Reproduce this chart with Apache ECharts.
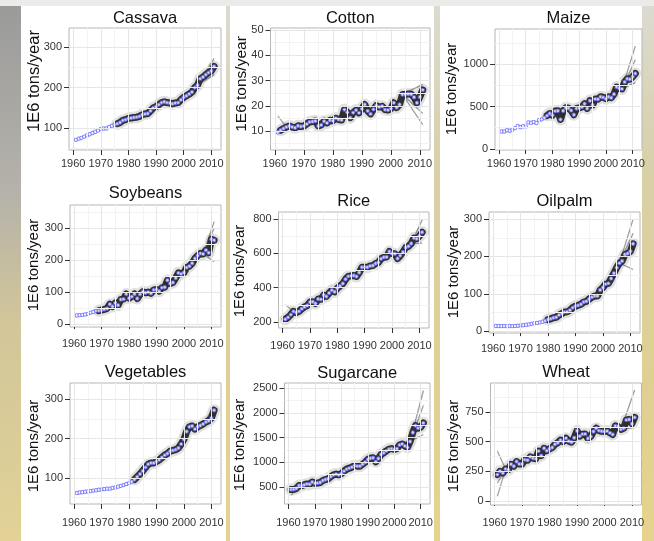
<!DOCTYPE html>
<html><head><meta charset="utf-8">
<script src="https://cdn.jsdelivr.net/npm/echarts@6/dist/echarts.min.js"></script>
<style>html,body{margin:0;padding:0;width:654px;height:541px;overflow:hidden}#c{width:654px;height:541px}</style>
</head><body><div id="c"></div>
<script>
const years = [1961,1962,1963,1964,1965,1966,1967,1968,1969,1970,
  1971,1972,1973,1974,1975,1976,1977,1978,1979,1980,
  1981,1982,1983,1984,1985,1986,1987,1988,1989,1990,
  1991,1992,1993,1994,1995,1996,1997,1998,1999,2000,
  2001,2002,2003,2004,2005,2006,2007,2008,2009,2010,2011];
const crops = ['Cassava','Cotton','Maize','Soybeans','Rice','Oilpalm','Vegetables','Sugarcane','Wheat'];

const cassava = [71,74,76,79,82,85,88,91,94,98, 99,99,103,106,108,111,114,119,121,124,
  125,126,127,129,133,135,136,143,150,153, 158,163,165,163,162,160,162,163,170,176,
  180,184,189,200,206,222,226,232,237,241, 252];
const cotton = [9.5,10.3,11.0,11.6,12.0,11.6,11.3,12.1,11.8,12.0, 12.8,13.6,13.8,14.0,12.0,12.4,13.9,13.2,14.3,14.1,
  15.1,14.6,14.4,18.5,17.4,15.3,17.3,18.3,17.2,18.8, 20.5,18.0,16.8,18.6,20.1,19.5,19.8,18.5,18.3,18.9,
  21.2,19.3,20.5,24.5,24.5,24.7,24.6,23.4,21.2,23.5, 26.3];
const maize = [205,205,220,215,226,246,270,255,268,266, 313,309,317,306,342,349,369,393,418,397,
  446,450,347,450,486,479,454,403,476,483, 494,533,477,569,517,589,585,615,607,592,
  615,603,645,729,714,707,789,827,820,851, 888];
const soybeans = [27,28,29,30,32,36,38,42,42,44, 46,49,62,55,66,59,77,78,94,81,
  86,94,80,93,101,98,100,96,107,108, 103,114,115,137,127,130,144,160,157,161,
  177,181,190,205,214,221,219,231,223,265, 262];
const rice = [216,227,243,262,255,262,277,288,296,316, 318,308,334,332,357,349,369,385,376,397,
  410,424,449,466,469,471,465,488,519,519, 519,527,529,541,547,569,577,579,611,599,
  598,570,587,608,634,641,657,689,685,701, 723];
const oilpalm = [13.6,13.7,13.4,13.7,13.4,13.6,13.3,14.0,14.5,15.0, 16,17,18,19.5,21,22,23.5,25,28,31,
  33,36,37,43,47,51,52,56,63,67, 69,72,78,80,86,91,94,94,110,117,
  126,128,141,155,170,182,188,205,208,214, 234];
const vegetables = [62,63,64,65,66,67,68,69,70,71, 72,73,73,75,76,78,80,82,85,87,
  91,96,103,110,118,127,135,138,138,142, 146,152,158,162,168,170,172,176,186,198,
  218,230,232,224,230,233,237,242,245,252, 272];
const sugarcane = [448,450,470,530,525,545,560,555,600,574, 580,590,630,650,665,710,745,760,745,770,
  820,860,880,900,935,920,920,960,1000,1055, 1080,1090,1010,1075,1155,1190,1230,1265,1275,1260,
  1275,1350,1370,1330,1300,1420,1600,1740,1690,1710, 1795];
const wheat = [222,250,235,270,264,309,293,332,311,311, 348,343,372,360,356,420,382,444,424,440,
  450,478,490,513,500,528,504,495,533,592, 546,563,565,526,543,585,613,593,587,586,
  590,574,560,633,627,603,612,683,687,651, 704];

const xTicks = [1960,1970,1980,1990,2000,2010];
const cassavaTicks = [100,200,300];
const cottonTicks = [10,20,30,40,50];
const maizeTicks = [0,500,1000];
const soybeansTicks = [0,100,200,300];
const riceTicks = [200,400,600,800];
const oilpalmTicks = [0,100,200,300];
const vegetablesTicks = [100,200,300];
const sugarcaneTicks = [500,1000,1500,2000,2500];
const wheatTicks = [0,250,500,750];

// ensemble (grey lines) description
const bandStart = [1976,1962,1978,1969,1961,1980,1982,1961,1961];
const fanFrom = [2005,2004,2006,2007,2007,2006,2007,2006,2006];
const fanTo = [[272,232],[28.5,12.5,17],[1210,1050,780],[320,300,195],[795,660],[300,262,165],[282,255],[2450,2150,1560],[935,620]];
const earlyFanTo = 1964;
const earlyFan = [[],[16],[],[],[300],[],[],[330],[40,150,420]];

const values = [cassava,cotton,maize,soybeans,rice,oilpalm,vegetables,sugarcane,wheat];
const yTicks = [cassavaTicks,cottonTicks,maizeTicks,soybeansTicks,riceTicks,oilpalmTicks,vegetablesTicks,sugarcaneTicks,wheatTicks];

// layout (pixels) and axis ranges
const layout = [
  {left:69, top:28, width:152, height:122, yMin:46, yMax:347, titleY:18, nameX:34, nameY:81, nameSize:16.5, xLab:8},
  {left:270.5, top:28, width:159.5, height:122, yMin:2.5, yMax:50.8, titleY:18, nameX:242, nameY:84, nameSize:15.5, xLab:8},
  {left:495, top:29, width:147, height:121, yMin:-12, yMax:1412, titleY:18, nameX:452, nameY:89, nameSize:15, xLab:8},
  {left:70, top:205, width:151, height:122, yMin:-9, yMax:372, titleY:193.5, nameX:34, nameY:265, nameSize:15, xLab:11},
  {left:278.5, top:212, width:150.5, height:116, yMin:165, yMax:841, titleY:201, nameX:240, nameY:271, nameSize:15, xLab:12},
  {left:489, top:212, width:151, height:121, yMin:-5, yMax:319, titleY:201, nameX:454, nameY:272, nameSize:15, xLab:10},
  {left:70, top:383, width:151, height:121, yMin:34, yMax:341, titleY:372, nameX:34, nameY:446, nameSize:15, xLab:13},
  {left:284.5, top:383, width:145.5, height:121, yMin:155, yMax:2602, titleY:373, nameX:240, nameY:445, nameSize:15, xLab:13},
  {left:490.5, top:383, width:151, height:122, yMin:-34, yMax:994, titleY:372, nameX:454, nameY:446, nameSize:15, xLab:12}
];
const X_MIN = 1958.5, X_MAX = 2013.5;
const FONT = "'Liberation Sans', Arial, Helvetica, sans-serif";

const chart = echarts.init(document.getElementById('c'), null, {renderer:'canvas'});

const grids = [], xAxes = [], yAxes = [], series = [], graphics = [];

// background
graphics.push({type:'rect', z:-20, shape:{x:0,y:0,width:654,height:541},
  style:{fill:new echarts.graphic.LinearGradient(0,0,0,1,[
    {offset:0,color:'#dcdbd2'},{offset:0.3,color:'#d8d0a8'},{offset:0.7,color:'#e0cf92'},{offset:1,color:'#e6d38e'}])}});
graphics.push({type:'rect', z:-19, shape:{x:0,y:0,width:21,height:541},
  style:{fill:new echarts.graphic.LinearGradient(0,0,0,1,[
    {offset:0,color:'#9a9a9a'},{offset:0.35,color:'#b4b2aa'},{offset:0.6,color:'#d2c69a'},{offset:1,color:'#e2d296'}])}});
graphics.push({type:'rect', z:-19, shape:{x:0,y:0,width:654,height:6}, style:{fill:'#ebebea'}});
[[21,205],[230,204],[440,202]].forEach(c=>{
  graphics.push({type:'rect', z:-18, shape:{x:c[0],y:6,width:c[1],height:535}, style:{fill:'#ffffff'}});
});

function minorOf(ticks, lo, hi){
  const step = ticks[1]-ticks[0];
  const out = [];
  for (let v = ticks[0]-step/2; v <= hi; v += step) if (v >= lo) out.push(v);
  return out;
}
const plain = v => String(Math.round(v));

crops.forEach((name, i) => {
  const L = layout[i];
  const vals = values[i];
  grids.push({left:L.left, top:L.top, width:L.width, height:L.height, show:true,
    borderColor:'#b5b5b5', borderWidth:1, backgroundColor:'#ffffff', containLabel:false});
  xAxes.push({gridIndex:i, type:'value', min:X_MIN, max:X_MAX,
    axisLine:{show:false}, splitLine:{show:false},
    axisTick:{show:true, length:5, customValues:xTicks, lineStyle:{color:'#333', width:1}},
    axisLabel:{customValues:xTicks, formatter:plain, hideOverlap:false, showMinLabel:true, showMaxLabel:true,
      fontSize:11, color:'#333', margin:L.xLab, fontFamily:FONT}});
  yAxes.push({gridIndex:i, type:'value', min:L.yMin, max:L.yMax,
    axisLine:{show:false}, splitLine:{show:false},
    axisTick:{show:true, length:5, customValues:yTicks[i], lineStyle:{color:'#333', width:1}},
    axisLabel:{customValues:yTicks[i], formatter:plain, hideOverlap:false, showMinLabel:true, showMaxLabel:true,
      fontSize:11, color:'#333', margin:7, fontFamily:FONT}});

  const pts = years.map((y,k)=>[y, vals[k]]);
  const xMinor = minorOf(xTicks, X_MIN, X_MAX);
  const yMinor = minorOf(yTicks[i], L.yMin, L.yMax);
  const ml = [];
  yMinor.forEach(v=>ml.push({yAxis:v, lineStyle:{color:'#f3f3f3', width:1, type:'solid'}}));
  xMinor.forEach(v=>ml.push({xAxis:v, lineStyle:{color:'#f3f3f3', width:1, type:'solid'}}));
  yTicks[i].forEach(v=>{ if (v>=L.yMin && v<=L.yMax) ml.push({yAxis:v, lineStyle:{color:'#e6e6e6', width:1, type:'solid'}}); });
  xTicks.forEach(v=>ml.push({xAxis:v, lineStyle:{color:'#e6e6e6', width:1, type:'solid'}}));

  // grid lines carrier
  series.push({type:'line', xAxisIndex:i, yAxisIndex:i, data:pts, z:0, silent:true, animation:false,
    showSymbol:false, symbol:'none', lineStyle:{opacity:0},
    markLine:{silent:true, symbol:['none','none'], label:{show:false}, animation:false, data:ml}});

  // ensemble band
  const band = pts.filter(p=>p[0]>=bandStart[i]);
  series.push({type:'line', xAxisIndex:i, yAxisIndex:i, data:band, z:1, silent:true, animation:false,
    symbol:'none', lineStyle:{color:'rgba(0,0,0,0.12)', width:12, cap:'round', join:'round'}});
  series.push({type:'line', xAxisIndex:i, yAxisIndex:i, data:band, z:2, silent:true, animation:false,
    symbol:'none', lineStyle:{color:'rgba(20,20,20,0.88)', width:7, cap:'round', join:'round'}});
  // forecast fans
  const k0 = years.indexOf(fanFrom[i]);
  fanTo[i].forEach(v=>{
    series.push({type:'line', xAxisIndex:i, yAxisIndex:i, z:2, silent:true, animation:false, symbol:'none',
      data:[[fanFrom[i], vals[k0]], [years[years.length-1], v]],
      lineStyle:{color:'rgba(60,60,60,0.5)', width:1.3}});
  });
  const k1 = years.indexOf(earlyFanTo);
  earlyFan[i].forEach(v=>{
    series.push({type:'line', xAxisIndex:i, yAxisIndex:i, z:2, silent:true, animation:false, symbol:'none',
      data:[[years[0], v], [earlyFanTo, vals[k1]]],
      lineStyle:{color:'rgba(60,60,60,0.45)', width:1.3}});
  });
  // observed points
  series.push({type:'scatter', xAxisIndex:i, yAxisIndex:i, data:pts, z:4, silent:true, animation:false,
    symbol:'circle', symbolSize:3.4, itemStyle:{color:'#ffffff', borderColor:'#6565ff', borderWidth:1}});

  graphics.push({type:'text', z:10, x:L.left + L.width/2, y:L.titleY,
    style:{text:name, fontSize:16.5, fontFamily:FONT, fill:'#111', align:'center', verticalAlign:'middle'}});
  graphics.push({type:'text', z:10, x:L.nameX, y:L.nameY, rotation:Math.PI/2,
    style:{text:'1E6 tons/year', fontSize:L.nameSize, fontFamily:FONT, fill:'#111', align:'center', verticalAlign:'middle'}});
});

chart.setOption({
  animation:false,
  backgroundColor:'transparent',
  graphic:graphics,
  grid:grids, xAxis:xAxes, yAxis:yAxes, series:series
});
</script></body></html>
